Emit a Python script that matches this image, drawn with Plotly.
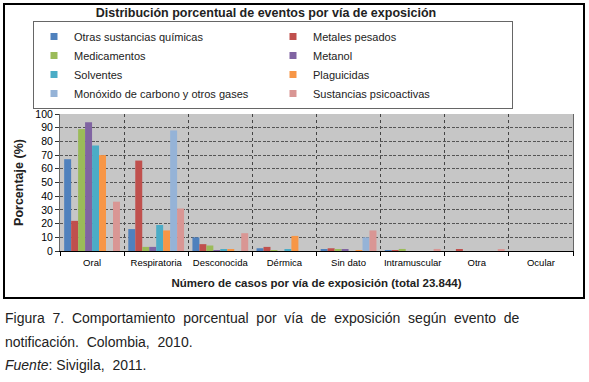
import plotly.graph_objects as go

categories = ["Oral", "Respiratoria", "Desconocida", "Dérmica", "Sin dato",
              "Intramuscular", "Otra", "Ocular"]

otras_sustancias = [67, 16, 10, 2, 1, 0.5, 0, 0]
metales_pesados = [22, 66, 5, 3, 2, 0.3, 0.8, 0]
medicamentos = [89, 3, 4, 0.3, 1, 1.5, 0, 0]
metanol = [94, 3, 0.3, 0, 1, 0, 0, 0]
solventes = [77, 19, 1, 1, 0, 0, 0, 0]
plaguicidas = [70, 15, 1, 11, 0.5, 0, 0, 0]
monoxido = [0, 88, 0, 0, 10, 0, 0, 0]
psicoactivas = [36, 31, 13, 0, 15, 1.5, 0.8, 0]

series_names = ["Otras sustancias químicas", "Metales pesados", "Medicamentos",
                "Metanol", "Solventes", "Plaguicidas",
                "Monóxido de carbono y otros gases", "Sustancias psicoactivas"]
series_values = [otras_sustancias, metales_pesados, medicamentos, metanol,
                 solventes, plaguicidas, monoxido, psicoactivas]
colors = ["#4F81BD", "#C0504D", "#9BBB59", "#8064A2", "#4BACC6", "#F79646",
          "#95B3D7", "#D99694"]

FONT = "Liberation Sans, Arial, sans-serif"

fig = go.Figure()
for name, vals, col in zip(series_names, series_values, colors):
    fig.add_trace(go.Bar(x=categories, y=vals, name=name, marker_color=col,
                         marker_line_width=0, showlegend=False))
# legend entries with small square swatches
for name, col in zip(series_names, colors):
    fig.add_trace(go.Scatter(x=[None], y=[None], mode="markers", name=name,
                             marker=dict(symbol="square", size=7, color=col)))

fig.update_layout(
    width=589, height=382,
    margin=dict(l=60, r=16, t=114, b=131, autoexpand=False),
    paper_bgcolor="white", plot_bgcolor="#C6C6C6",
    barmode="group", bargap=0.13, bargroupgap=0,
    font=dict(family=FONT, color="black"),
    title=dict(text="<b>Distribución porcentual de eventos por vía de exposición</b>",
               x=266/589, xanchor="center", y=1-13/382, yanchor="middle",
               font=dict(size=12.5, family=FONT, color="#222")),
    legend=dict(orientation="h", x=(33-60)/513, xanchor="left",
                y=(251-21)/137, yanchor="top",
                entrywidth=194, entrywidthmode="pixels",
                bordercolor="#666", borderwidth=1, bgcolor="white",
                font=dict(size=11, family=FONT, color="#222"),
                tracegroupgap=0, itemwidth=30),
    showlegend=True,
)
fig.update_xaxes(type="category", tickson="boundaries", ticks="outside",
                 ticklen=4, tickcolor="black", showline=True, linecolor="black",
                 linewidth=1, showgrid=True, gridcolor="#444", griddash="dot",
                 gridwidth=1, tickangle=0, automargin=False, ticklabelstandoff=3,
                 tickfont=dict(size=9.5, family=FONT),
                 title=dict(text="<b>Número de casos por vía de exposición (total 23.844)</b>",
                            font=dict(size=11.5, family=FONT, color="#222"), standoff=11))
fig.update_yaxes(range=[0, 100], dtick=10, ticks="outside", ticklen=4,
                 tickcolor="#333", showline=True, linecolor="#666", mirror=True,
                 showgrid=True, gridcolor="#555", griddash="3px,1.5px", gridwidth=1,
                 zeroline=False, automargin=False,
                 tickfont=dict(size=10.5, family=FONT),
                 title=dict(text="<b>Porcentaje (%)</b>",
                            font=dict(size=12.5, family=FONT, color="#222"), standoff=8))

# outer chart frame
fig.add_shape(type="rect", xref="paper", yref="paper",
              x0=-56/513, x1=(584-60)/513, y0=(251-298)/137, y1=(251-4)/137,
              line=dict(color="black", width=2), layer="above")

cap_font = dict(size=14, family=FONT, color="#222")
sp = "\u00a0 "
line1 = sp.join("Figura 7. Comportamiento porcentual por vía de exposición según evento de".split(" "))
line2 = sp.join("notificación. Colombia, 2010.".split(" "))
line3 = "<i>Fuente</i>: Sivigila," + sp + "2011."
for txt, ypix in [(line1, 318), (line2, 342), (line3, 365)]:
    fig.add_annotation(text=txt, xref="paper", yref="paper",
                       x=(3-60)/513, xanchor="left",
                       y=(251-ypix)/137, yanchor="middle",
                       showarrow=False, font=cap_font)

fig.write_html("out.html", config={"displayModeBar": False},
               post_script="document.body.style.margin='0';document.body.style.padding='0';")
